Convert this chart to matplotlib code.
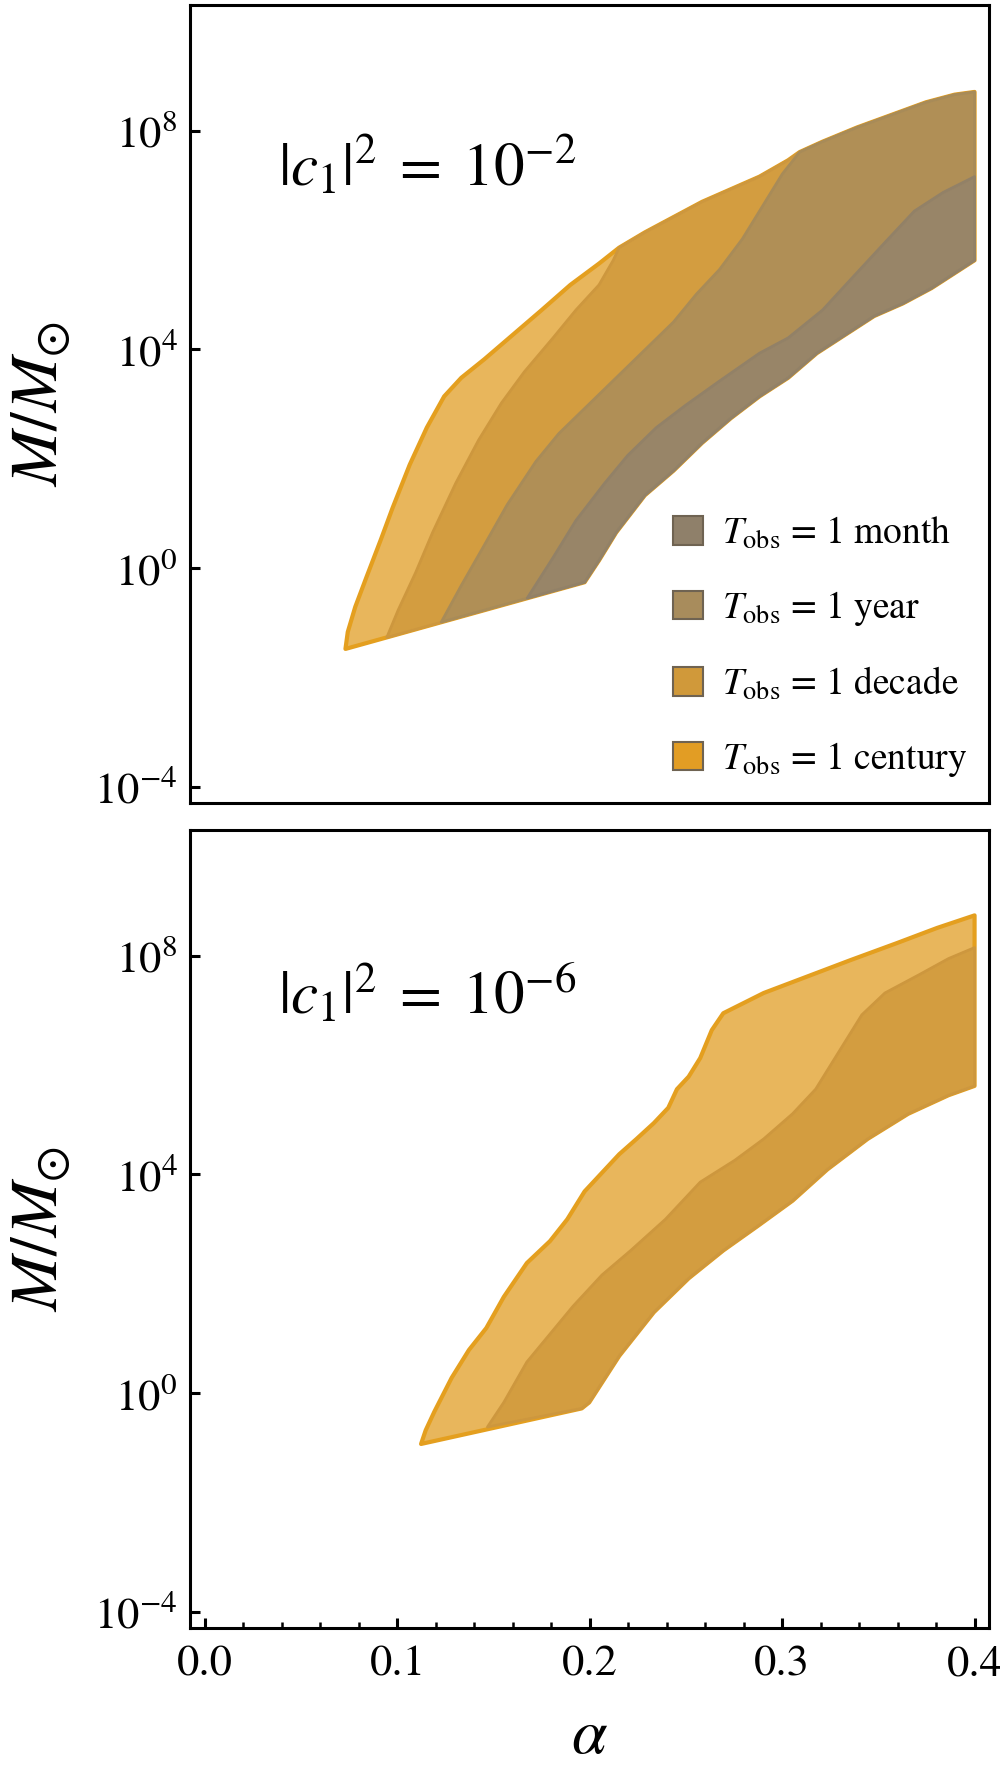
import numpy as np
import matplotlib
matplotlib.use("Agg")
import matplotlib.pyplot as plt
from matplotlib.patches import Patch
from matplotlib.ticker import FixedLocator, FuncFormatter, MultipleLocator, NullLocator

plt.rcParams['font.family'] = ['STIXGeneral', 'DejaVu Serif']
plt.rcParams['mathtext.fontset'] = 'stix'

# ---------------- data (alpha, log10 M/Msun) ----------------
# top panel |c1|^2 = 1e-2
top_century_a = [0.0730, 0.0742, 0.0781, 0.0841, 0.0915, 0.0975, 0.1064, 0.1153, 0.1243, 0.1332,
                 0.1452, 0.1601, 0.1750, 0.1899, 0.2048, 0.2152, 0.2286, 0.2435, 0.2584, 0.2733,
                 0.2882, 0.3031, 0.3091, 0.3210, 0.3389, 0.3568, 0.3747, 0.3896, 0.4000]
top_century_m = [-1.48, -1.17, -0.71, -0.15, 0.53, 1.10, 1.89, 2.57, 3.14, 3.48,
                 3.82, 4.27, 4.72, 5.18, 5.57, 5.86, 6.14, 6.42, 6.70, 6.93,
                 7.16, 7.46, 7.61, 7.80, 8.06, 8.29, 8.52, 8.66, 8.71]
top_decade_a = [0.0945, 0.1004, 0.1094, 0.1183, 0.1303, 0.1422, 0.1541, 0.1660, 0.1809, 0.1928,
                0.2048, 0.2122, 0.2152, 0.2286, 0.2435, 0.2584, 0.2733, 0.2882, 0.3031, 0.3091,
                0.3210, 0.3389, 0.3568, 0.3747, 0.3896, 0.4000]
top_decade_m = [-1.27, -0.77, -0.09, 0.65, 1.55, 2.34, 3.02, 3.59, 4.21, 4.72,
                5.18, 5.63, 5.86, 6.14, 6.42, 6.70, 6.93, 7.16, 7.46, 7.61,
                7.80, 8.06, 8.29, 8.52, 8.66, 8.71]
top_year_a = [0.1228, 0.1332, 0.1452, 0.1571, 0.1720, 0.1839, 0.1988, 0.2137, 0.2286, 0.2435,
              0.2554, 0.2674, 0.2793, 0.2912, 0.3001, 0.3091, 0.3210, 0.3389, 0.3568, 0.3747,
              0.3896, 0.4000]
top_year_m = [-0.99, -0.32, 0.42, 1.16, 1.95, 2.46, 2.97, 3.48, 3.99, 4.50,
              5.01, 5.46, 6.02, 6.70, 7.21, 7.61, 7.80, 8.06, 8.29, 8.52,
              8.66, 8.71]
top_month_a = [0.1675, 0.1809, 0.1928, 0.2077, 0.2197, 0.2346, 0.2495, 0.2674, 0.2882, 0.3031,
               0.3210, 0.3359, 0.3538, 0.3687, 0.3836, 0.4000]
top_month_m = [-0.55, 0.19, 0.87, 1.55, 2.06, 2.57, 2.97, 3.42, 3.93, 4.21,
               4.72, 5.29, 5.97, 6.53, 6.87, 7.16]
top_lower_a = [0.1973, 0.2048, 0.2137, 0.2286, 0.2435, 0.2584, 0.2733, 0.2882, 0.3031, 0.3180,
               0.3329, 0.3478, 0.3627, 0.3776, 0.4000]
top_lower_m = [-0.26, 0.14, 0.65, 1.33, 1.78, 2.29, 2.74, 3.14, 3.48, 3.93,
               4.27, 4.61, 4.84, 5.12, 5.63]

# bottom panel |c1|^2 = 1e-6
bot_century_a = [0.1123, 0.1147, 0.1192, 0.1282, 0.1372, 0.1462, 0.1553, 0.1673, 0.1793, 0.1883,
                 0.1973, 0.2063, 0.2153, 0.2243, 0.2333, 0.2408, 0.2453, 0.2514, 0.2574, 0.2634,
                 0.2694, 0.2904, 0.3114, 0.3354, 0.3594, 0.3805, 0.4000]
bot_century_m = [-0.93, -0.68, -0.34, 0.28, 0.79, 1.19, 1.76, 2.38, 2.78, 3.18,
                 3.69, 4.03, 4.37, 4.65, 4.94, 5.22, 5.56, 5.79, 6.13, 6.64,
                 6.95, 7.32, 7.60, 7.92, 8.23, 8.51, 8.74]
bot_decade_a = [0.1468, 0.1553, 0.1673, 0.1793, 0.1913, 0.2063, 0.2213, 0.2393, 0.2574, 0.2754,
                0.2904, 0.3054, 0.3174, 0.3294, 0.3414, 0.3534, 0.3715, 0.3865, 0.4000]
bot_decade_m = [-0.62, -0.17, 0.57, 1.08, 1.59, 2.16, 2.61, 3.18, 3.86, 4.26,
                4.65, 5.11, 5.56, 6.24, 6.92, 7.32, 7.66, 7.95, 8.15]
bot_lower_a = [0.1958, 0.1997, 0.2153, 0.2333, 0.2514, 0.2694, 0.2874, 0.3054, 0.3234, 0.3444,
               0.3655, 0.3865, 0.4000]
bot_lower_m = [-0.28, -0.17, 0.68, 1.48, 2.10, 2.61, 3.06, 3.52, 4.09, 4.65,
               5.11, 5.45, 5.62]

labels = [r'$T_{\rm obs}$ = 1 month', r'$T_{\rm obs}$ = 1 year',
          r'$T_{\rm obs}$ = 1 decade', r'$T_{\rm obs}$ = 1 century']
panel_texts = [r'$|c_1|^2\;=\;10^{-2}$', r'$|c_1|^2\;=\;10^{-6}$']
yticks = [1e-4, 1e0, 1e4, 1e8]

# styles
fill_col = {'century': '#e8b65c', 'decade': '#d39d40', 'year': '#b08f56', 'month': '#988568'}
edge_col = {'century': '#e49f1f', 'decade': '#cd973e', 'year': '#a88b58', 'month': '#928167'}
edge_lw = {'century': 3.0, 'decade': 2.0, 'year': 2.0, 'month': 2.0}
leg_col = ['#8f806a', '#a88c5c', '#d0993a', '#e29d24']


def region(ax, ua, um, la, lm, key, z):
    xs = list(ua) + list(la[::-1])
    ys = list(um) + list(lm[::-1])
    ax.fill(xs, 10.0 ** np.array(ys), facecolor=fill_col[key], edgecolor=edge_col[key],
            linewidth=edge_lw[key], joinstyle='round', zorder=z)


fig = plt.figure(figsize=(10, 17.89), dpi=100)
ax1 = fig.add_axes([0.190, 0.5511, 0.799, 0.4461])
ax2 = fig.add_axes([0.190, 0.0899, 0.799, 0.4461])

region(ax1, top_century_a, top_century_m, top_lower_a, top_lower_m, 'century', 2)
region(ax1, top_decade_a, top_decade_m, top_lower_a, top_lower_m, 'decade', 3)
region(ax1, top_year_a, top_year_m, top_lower_a, top_lower_m, 'year', 4)
region(ax1, top_month_a, top_month_m, top_lower_a, top_lower_m, 'month', 5)

region(ax2, bot_century_a, bot_century_m, bot_lower_a, bot_lower_m, 'century', 2)
region(ax2, bot_decade_a, bot_decade_m, bot_lower_a, bot_lower_m, 'decade', 3)

for ax, txt, ty in [(ax1, panel_texts[0], 0.797), (ax2, panel_texts[1], 0.793)]:
    ax.set_yscale('log')
    ax.set_xlim(-0.0078, 0.4075)
    ax.set_ylim(10 ** -4.3, 10 ** 10.3)
    ax.yaxis.set_major_locator(FixedLocator(yticks))
    ax.yaxis.set_minor_locator(NullLocator())
    ax.yaxis.set_major_formatter(FuncFormatter(lambda v, p: r'$10^{%d}$' % int(round(np.log10(v)))))
    for s in ax.spines.values():
        s.set_linewidth(2.2)
    ax.tick_params(axis='y', which='major', direction='in', length=7.5, width=2.2,
                   labelsize=32, pad=9, right=False)
    ax.set_ylabel(r'$M/M_{\odot}$', fontsize=48)
    ax.yaxis.set_label_coords(-0.148, 0.5)
    ax.text(0.110, ty, txt, transform=ax.transAxes, fontsize=44, va='center', ha='left')

ax1.tick_params(axis='x', which='both', bottom=False, top=False, labelbottom=False)
ax2.xaxis.set_major_locator(MultipleLocator(0.1))
ax2.xaxis.set_minor_locator(MultipleLocator(0.02))
ax2.xaxis.set_major_formatter(FuncFormatter(lambda v, p: '%.1f' % v))
ax2.tick_params(axis='x', which='major', direction='in', length=7.5, width=2.2,
                labelsize=32, pad=13, top=False)
ax2.tick_params(axis='x', which='minor', direction='in', length=4.5, width=1.8, top=False)
ax2.set_xlabel(r'$\alpha$', fontsize=46)
ax2.xaxis.set_label_coords(0.5, -0.100)

handles = [Patch(facecolor=c, edgecolor='#6f6352', linewidth=1.5) for c in leg_col]
leg = ax1.legend(handles, labels, loc='lower left', bbox_to_anchor=(0.605, 0.03),
                 frameon=False, fontsize=27, handlelength=0.8, handleheight=0.8,
                 handletextpad=0.5, labelspacing=1.0, borderpad=0, borderaxespad=0)

fig.savefig('out.png', dpi=100)
